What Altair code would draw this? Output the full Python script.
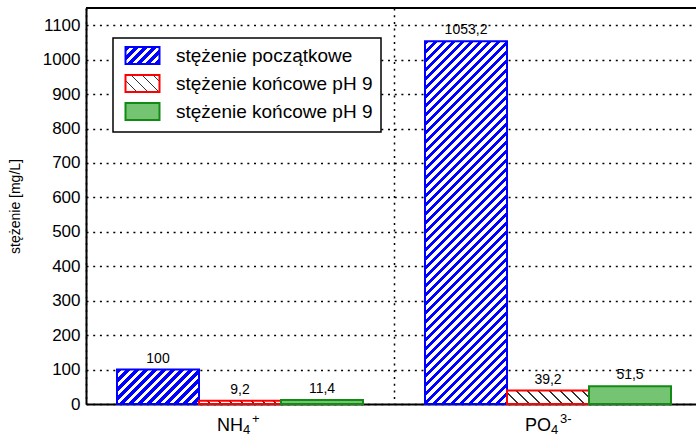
import json
import altair as alt

# ---------------- data ----------------
categories = ["NH4", "PO4"]
series_keys = ["p", "k1", "k2"]
series_labels = ["stężenie początkowe", "stężenie końcowe pH 9", "stężenie końcowe pH 9"]
initial_conc = [100, 1053.2]        # stężenie początkowe
final_conc_1 = [9.2, 39.2]          # stężenie końcowe pH 9 (1)
final_conc_2 = [11.4, 51.5]         # stężenie końcowe pH 9 (2)
y_ticks = [0, 100, 200, 300, 400, 500, 600, 700, 800, 900, 1000, 1100]
xlab_main = ["NH", "PO"]
xlab_sub = ["4", "4"]
xlab_sup = ["+", "3-"]

# ---------------- layout / style ----------------
PLOT_W = 610
X_RANGE = 616
PLOT_H = 396
Y_MAX = 1150
PAD_OUTER = 0.378
BAR_W = (X_RANGE / 2) / (3 + 2 * PAD_OUTER)
FONT = "Liberation Sans"
BLUE = "#0000ff"
RED = "#ff0000"
GREEN_STROKE = "#138a13"
GREEN_FILL = "#74c474"


def stripes(w, h, period, frac, c_on, c_off, direction):
    L = w + h
    P = period / L
    r = h / w
    k = L / (w * (1 + r * r))
    if direction == "/":
        x1, y1, x2, y2 = 0, 0, k, k * r
    else:
        x1, y1, x2, y2 = 0, 1, k, 1 - k * r
    stops = []
    n = int(L / period) + 2
    for i in range(n):
        s = i * P
        m = s + frac * P
        e = s + P
        for o, c in ((s, c_on), (m, c_on), (m, c_off), (e, c_off)):
            stops.append({"offset": round(min(o, 1.0), 5), "color": c})
    return {"gradient": "linear", "x1": round(x1, 5), "y1": round(y1, 5),
            "x2": round(x2, 5), "y2": round(y2, 5), "stops": stops}


def fill_for(key, w, h):
    if key == "p":
        return stripes(w, h, 9.0, 0.5, BLUE, "#ffffff", "/")
    if key == "k1":
        return stripes(w, h, 11.0, 0.12, "#333333", "#ffffff", "\\")
    return GREEN_FILL


rows = []
for ci, cat in enumerate(categories):
    for key, vals in zip(series_keys, [initial_conc, final_conc_1, final_conc_2]):
        v = vals[ci]
        h = v * PLOT_H / Y_MAX
        rows.append({
            "cat": cat, "series": key, "value": v,
            "label": f"{v:g}".replace(".", ","),
            "grad": fill_for(key, BAR_W, h),
        })

lab_rows = [{"cat": c, "main": m, "sub": s, "sup": u}
            for c, m, s, u in zip(categories, xlab_main, xlab_sub, xlab_sup)]


def js(o):
    return json.dumps(o, ensure_ascii=False)


SYM_W, SYM_H = 34, 17
legend_fill_expr = (
    "datum.value === 'p' ? " + js(fill_for("p", SYM_W, SYM_H)) +
    " : datum.value === 'k1' ? " + js(fill_for("k1", SYM_W, SYM_H)) +
    " : '" + GREEN_FILL + "'"
)
label_expr = ("datum.value === 'p' ? '" + series_labels[0] + "' : datum.value === 'k1' ? '"
              + series_labels[1] + "' : '" + series_labels[2] + "'")

data = alt.Data(values=rows)
labdata = alt.Data(values=lab_rows)

x_scale = alt.Scale(domain=categories, range=[0, X_RANGE], paddingInner=0, paddingOuter=0)
x_axis = alt.Axis(title=None, labels=False, ticks=False, domain=True, domainColor="black",
                  domainWidth=2, grid=True, bandPosition=0, gridColor="black",
                  gridDash=[2, 4.7], gridWidth=1.5, gridOpacity=1)
y_scale = alt.Scale(domain=[0, Y_MAX], nice=False, zero=True)
y_axis = alt.Axis(values=y_ticks, format="d", title="stężenie [mg/L]", titleFont=FONT,
                  titleFontSize=14, titleFontWeight="normal", titleColor="black",
                  titleX=-71, titleY=PLOT_H / 2, titleAngle=270, titleAlign="center",
                  titleBaseline="middle",
                  labelFont=FONT, labelFontSize=17, labelColor="black", labelPadding=6,
                  ticks=False, domain=True, domainColor="black", domainWidth=2,
                  grid=True, gridColor="black", gridDash=[2, 4.7], gridWidth=1.5,
                  gridOpacity=1)


def X():
    return alt.X("cat:N", sort=categories, scale=x_scale, axis=x_axis)


def XO():
    return alt.XOffset("series:N", sort=series_keys,
                       scale=alt.Scale(domain=series_keys, paddingInner=0, paddingOuter=PAD_OUTER))


bars = alt.Chart(data).mark_bar(strokeWidth=2, opacity=1).encode(
    x=X(),
    xOffset=XO(),
    y=alt.Y("value:Q", scale=y_scale, axis=y_axis),
    fill=alt.Fill("grad:N", scale=None),
    stroke=alt.Stroke("series:N", sort=series_keys,
                      scale=alt.Scale(domain=series_keys, range=[BLUE, RED, GREEN_STROKE]),
                      legend=alt.Legend(orient="none", legendX=27, legendY=30, title=None,
                                        labelExpr=label_expr, labelFont=FONT, labelFontSize=19,
                                        labelColor="black", labelLimit=400, labelOffset=24,
                                        symbolType="M-2,-1H2V1H-2Z", symbolSize=SYM_H * SYM_H,
                                        symbolStrokeWidth=2, symbolOffset=12,
                                        symbolFillColor=alt.ExprRef(expr=legend_fill_expr),
                                        strokeColor="black", fillColor="white",
                                        padding=8, rowPadding=3)),
)

texts = alt.Chart(data).mark_text(font=FONT, fontSize=14, color="black", dy=-7,
                                  baseline="alphabetic").encode(
    x=X(),
    xOffset=XO(),
    y=alt.Y("value:Q", scale=y_scale, axis=y_axis),
    text="label:N",
)

top_rule = alt.Chart(data).mark_rule(color="black", strokeWidth=2).encode(
    y=alt.Y(datum=Y_MAX, type="quantitative", scale=y_scale, axis=y_axis)
)

lab_main = alt.Chart(labdata).mark_text(font=FONT, fontSize=18, color="black", align="right",
                                        baseline="alphabetic", dx=3).encode(
    x=X(), y=alt.value(423), text="main:N")
lab_sub = alt.Chart(labdata).mark_text(font=FONT, fontSize=13, color="black", align="left",
                                       baseline="alphabetic", dx=3).encode(
    x=X(), y=alt.value(426), text="sub:N")
lab_sup = alt.Chart(labdata).mark_text(font=FONT, fontSize=13, color="black", align="left",
                                       baseline="alphabetic", dx=12).encode(
    x=X(), y=alt.value(415), text="sup:N")

chart = alt.layer(bars, texts, top_rule, lab_main, lab_sub, lab_sup).properties(
    width=PLOT_W, height=PLOT_H,
    autosize=alt.AutoSizeParams(type="none"),
    padding={"left": 86, "top": 8, "right": 0, "bottom": 33},
    background="white",
).configure_view(stroke=None).configure_legend(strokeWidth=1.5)

chart.save("out.html", embed_options={"renderer": "svg", "actions": False})
